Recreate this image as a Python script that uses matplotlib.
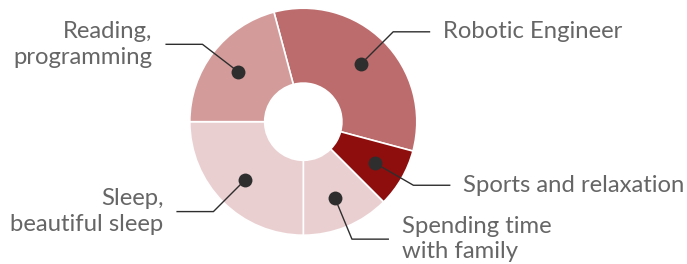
import numpy as np
import matplotlib
matplotlib.use('Agg')
import matplotlib.pyplot as plt

# hours of a day
labels = ['Robotic Engineer', 'Sports and relaxation', 'Spending time\nwith family',
          'Sleep,\nbeautiful sleep', 'Reading,\nprogramming']
hours = [8, 2, 3, 6, 5]
colors = ['#bc6c6c', '#8e0e0e', '#eacfd1', '#eacfd1', '#d39c9b']

W, H = 687, 264
fig = plt.figure(figsize=(W / 100, H / 100), dpi=100)
ax = fig.add_axes([0, 0, 1, 1])

cx, cy = 303.3, H - 121.7
R = 113.5
hole = 0.34

wedges, _ = ax.pie(hours, colors=colors, startangle=105, counterclock=False,
                   center=(cx, cy), radius=R, frame=True,
                   wedgeprops=dict(width=R * (1 - hole), edgecolor='white', linewidth=1.2))
ax.set_xlim(0, W)
ax.set_ylim(0, H)
ax.set_aspect('equal')
ax.axis('off')

line_c = '#2e2e2e'
text_c = '#666666'
for w, lab in zip(wedges, labels):
    mid = np.deg2rad((w.theta1 + w.theta2) / 2)
    dx, dy = np.cos(mid), np.sin(mid)
    px, py = cx + 0.725 * R * dx, cy + 0.725 * R * dy
    ex, ey = cx + 1.12 * R * dx, cy + 1.12 * R * dy
    side = 1 if dx > 0 else -1
    hx = ex + side * 37
    ax.plot([px, ex, hx], [py, ey, ey], color=line_c, lw=1.0, solid_capstyle='butt')
    ax.plot(px, py, 'o', color=line_c, ms=10, mec='none')
    ax.text(hx + side * 13, ey, lab, ha='left' if side > 0 else 'right',
            va='center', fontsize=17.2, color=text_c, family='Lato',
            linespacing=1.27, multialignment='left' if side > 0 else 'right')

fig.savefig('out.png', dpi=100)
